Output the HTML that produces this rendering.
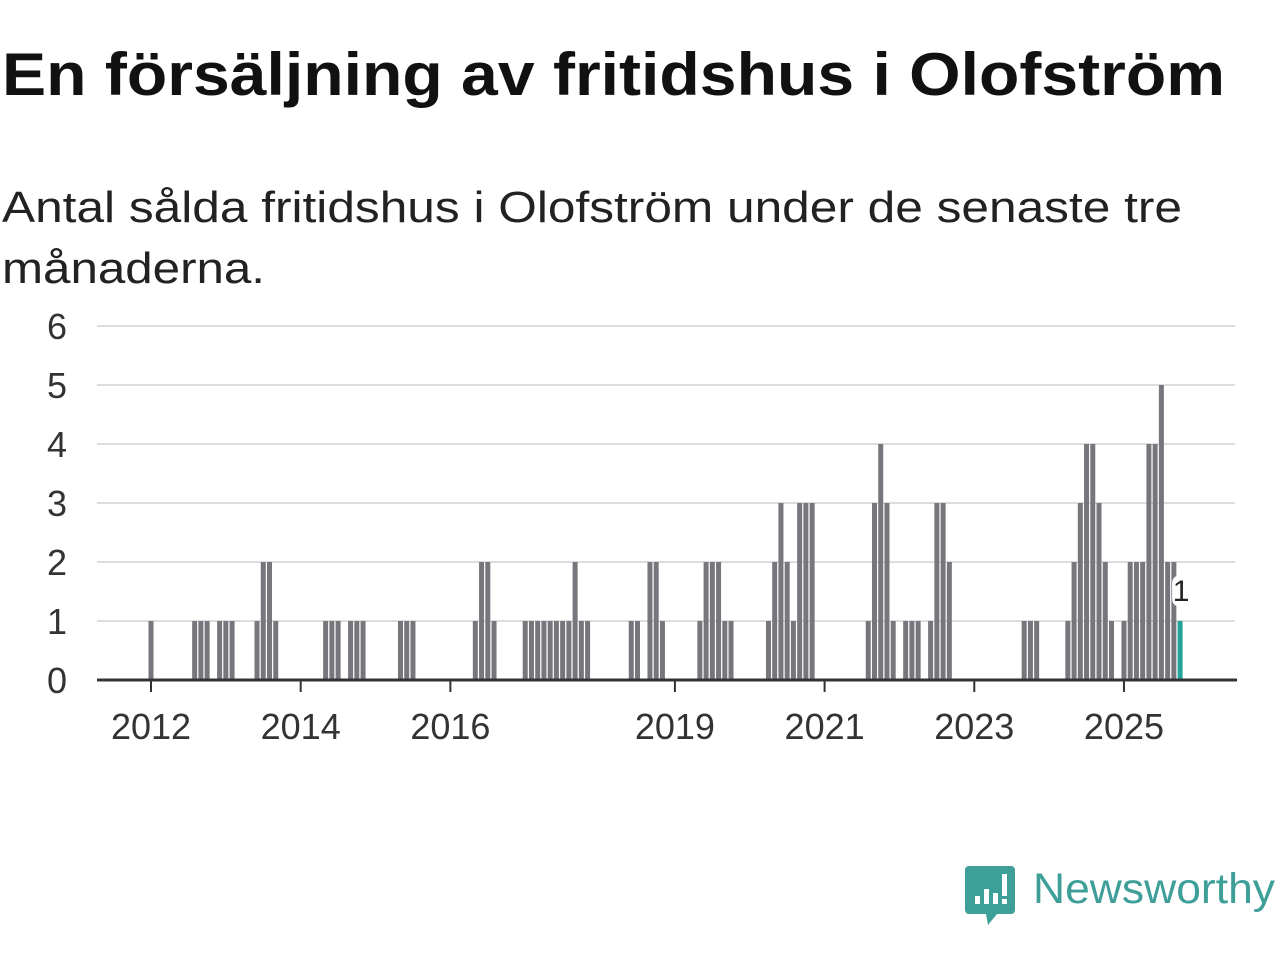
<!DOCTYPE html>
<html><head><meta charset="utf-8"><style>
body{margin:0;background:#fff;width:1280px;height:960px;overflow:hidden;font-family:"Liberation Sans",sans-serif;}
</style></head><body>
<svg id="chart" width="1280" height="960" xmlns="http://www.w3.org/2000/svg" font-family="Liberation Sans, sans-serif">
<text x="2" y="95" font-size="60" font-weight="bold" fill="#111" textLength="1223" lengthAdjust="spacingAndGlyphs">En försäljning av fritidshus i Olofström</text>
<text x="2" y="222" font-size="44" fill="#222" textLength="1180" lengthAdjust="spacingAndGlyphs">Antal sålda fritidshus i Olofström under de senaste tre</text>
<text x="2" y="283" font-size="44" fill="#222" textLength="263" lengthAdjust="spacingAndGlyphs">månaderna.</text>
<g id="grid"></g><g id="bars"></g><g id="axes"></g>
<g>
<path d="M969 866 h42 a4 4 0 0 1 4 4 v40 a4 4 0 0 1 -4 4 h-14 l-9 11 l-2 -11 h-17 a4 4 0 0 1 -4 -4 v-40 a4 4 0 0 1 4 -4z" fill="#3e9e98"/>
<rect x="975" y="896" width="5" height="8" fill="#fff"/><rect x="984" y="889" width="5" height="15" fill="#fff"/><rect x="993" y="893" width="5" height="11" fill="#fff"/><rect x="1002" y="874" width="5" height="22" fill="#fff"/><rect x="1002" y="899" width="5" height="5" fill="#fff"/>
<text x="1033" y="903" font-size="43" fill="#3e9e98" textLength="242" lengthAdjust="spacingAndGlyphs">Newsworthy</text>
</g>
</svg>
<script>
const months=[0,7,8,9,11,12,13,17,18,19,20,28,29,30,32,33,34,40,41,42,52,53,54,55,60,61,62,63,64,65,66,67,68,69,70,77,78,80,81,82,88,89,90,91,92,93,99,100,101,102,103,104,105,106,115,116,117,118,119,121,122,123,125,126,127,128,140,141,142,147,148,149,150,151,152,153,154,156,157,158,159,160,161,162,163,164,165];
const counts=[1,1,1,1,1,1,1,1,2,2,1,1,1,1,1,1,1,1,1,1,1,2,2,1,1,1,1,1,1,1,1,1,2,1,1,1,1,2,2,1,1,2,2,2,1,1,1,2,3,2,1,3,3,3,1,3,4,3,1,1,1,1,1,3,3,2,1,1,1,1,2,3,4,4,3,2,1,1,2,2,2,4,4,5,2,2,1];
const yTicks=[0,1,2,3,4,5,6];
const yearLabels=["2012","2014","2016","2019","2021","2023","2025"];
const yearMonths=[0,24,48,84,108,132,156];
const NS="http://www.w3.org/2000/svg";
const x=m=>151+m*6.237;
const y=v=>680-v*59;
function mk(tag,attrs,parent){const e=document.createElementNS(NS,tag);for(const k in attrs)e.setAttribute(k,attrs[k]);document.getElementById(parent).appendChild(e);return e;}
yTicks.forEach(t=>{
  if(t>0){const g=mk('line',{x1:97,x2:1235,y1:y(t),y2:y(t),stroke:'#ddd','stroke-width':2},'grid');
  
  }
  const l=mk('text',{x:67,y:y(t)+13,'font-size':36,fill:'#333','text-anchor':'end'},'grid');
  l.textContent=t;
  
  
});
const last=months.length-1;
months.forEach((m,i)=>{
  const r=mk('rect',{x:x(m)-2.5,y:y(counts[i]),width:5,height:counts[i]*59,fill:i===last?'#24a39a':'#77767c'},'bars');
  
  
});
const ax=mk('line',{x1:97,x2:1237,y1:680,y2:680,stroke:'#333','stroke-width':3},'axes');


yearMonths.forEach((m,i)=>{
  const t=mk('line',{x1:x(m),x2:x(m),y1:680,y2:692,stroke:'#333','stroke-width':2},'axes');
  
  
  const l=mk('text',{x:x(m),y:739,'font-size':36,fill:'#333','text-anchor':'middle'},'axes');
  l.textContent=yearLabels[i];
  
  
});
const lm=months[last],lv=counts[last];
const bg=mk('rect',{x:x(lm)-8,y:y(lv)-46,width:18,height:32,rx:8,fill:'#fff'},'axes');


const lab=mk('text',{x:x(lm)+1,y:y(lv)-20,'font-size':30,fill:'#222','text-anchor':'middle'},'axes');
lab.textContent=lv;


</script>
</body></html>
